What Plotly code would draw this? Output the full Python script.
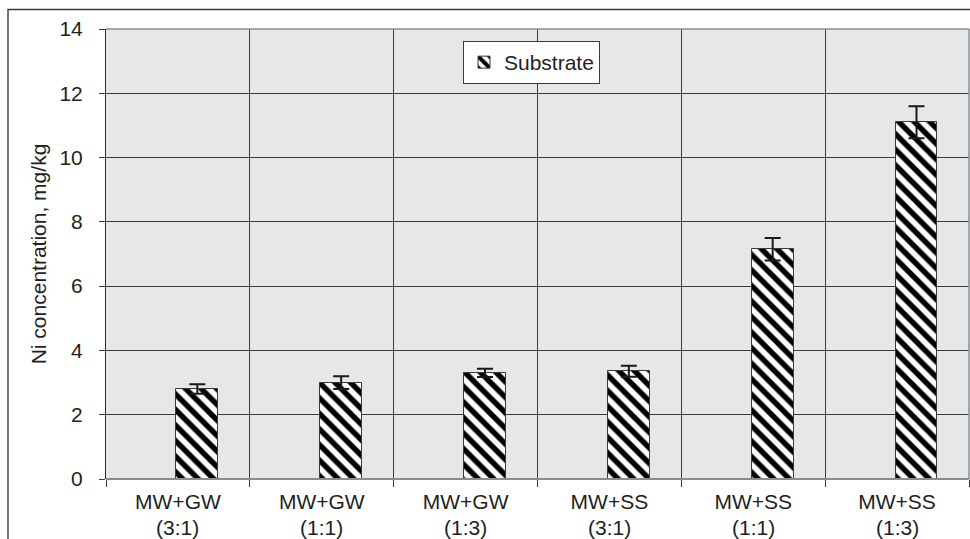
import plotly.graph_objects as go

# Mix type and ratio for each treatment
mixes = ["MW+GW", "MW+GW", "MW+GW", "MW+SS", "MW+SS", "MW+SS"]
ratios = ["(3:1)", "(1:1)", "(1:3)", "(3:1)", "(1:1)", "(1:3)"]
# Ni concentration in substrate (mg/kg) and its standard deviation
substrate = [2.8, 3.0, 3.3, 3.35, 7.15, 11.1]
substrate_err = [0.15, 0.2, 0.13, 0.17, 0.35, 0.5]
y_ticks = [0, 2, 4, 6, 8, 10, 12, 14]

categories = [f"{m} {r}" for m, r in zip(mixes, ratios)]

FONT = "Liberation Sans, Arial, sans-serif"
FS = 21
TEXT = "#231f20"

fig = go.Figure()
fig.add_trace(go.Bar(
    x=categories,
    y=substrate,
    name="Substrate",
    offset=-0.01,
    width=0.29,
    marker=dict(
        color="white",
        line=dict(color="#3a3a3a", width=1),
        pattern=dict(shape="\\", fgcolor="#000000", fgopacity=1, bgcolor="white",
                     size=11, solidity=0.5),
    ),
    error_y=dict(type="data", array=substrate_err, visible=True,
                 color="#1a1a1a", thickness=2, width=8),
    showlegend=True,
))

# second line of each category label (mixing ratio)
for c, r in zip(categories, ratios):
    fig.add_annotation(x=c, xref="x", y=0, yref="paper", text=r,
                       showarrow=False, yanchor="top", yshift=-35,
                       font=dict(family=FONT, size=FS, color=TEXT))

W, H = 970, 539
L, R, T, B = 106, 1, 29, 60
pw, ph = W - L - R, H - T - B

# plot frame (top, right, bottom)
fig.add_shape(type="line", xref="paper", yref="paper", x0=0, x1=1, y0=1, y1=1,
              line=dict(color="#8c8c8c", width=1.5))
fig.add_shape(type="line", xref="paper", yref="paper", x0=1, x1=1, y0=0, y1=1,
              line=dict(color="#8c8c8c", width=1.5))
fig.add_shape(type="line", xref="paper", yref="paper", x0=0, x1=1, y0=0, y1=0,
              line=dict(color="#8c8c8c", width=2))
# outer chart border
fig.add_shape(type="rect", xref="paper", yref="paper",
              x0=(8 - L) / pw, x1=1.05, y0=-0.3, y1=(H - B - 9.5) / ph,
              line=dict(color="#3c3c3c", width=1.4), fillcolor="rgba(0,0,0,0)")

fig.update_layout(
    width=W, height=H,
    margin=dict(l=L, r=R, t=T, b=B, pad=0),
    paper_bgcolor="white",
    plot_bgcolor="#e6e7e8",
    font=dict(family=FONT, size=FS, color=TEXT),
    bargap=0,
    legend=dict(x=(463 - L) / pw, y=(H - B - 41) / ph, xanchor="left", yanchor="top",
                bgcolor="white", bordercolor="#3c3c3c", borderwidth=1,
                font=dict(family=FONT, size=FS, color=TEXT)),
    xaxis=dict(
        type="category",
        tickvals=categories, ticktext=mixes,
        tickson="boundaries",
        ticks="outside", ticklen=7, tickcolor="#3c3c3c", tickwidth=1,
        showgrid=True, gridcolor="#3c3c3c", gridwidth=1,
        showline=False, zeroline=False,
        ticklabelstandoff=8,
        tickfont=dict(family=FONT, size=FS, color=TEXT),
    ),
    yaxis=dict(
        range=[0, 14], tickvals=y_ticks,
        ticks="outside", ticklen=6, tickcolor="#3c3c3c", tickwidth=1,
        showgrid=True, gridcolor="#3c3c3c", gridwidth=1,
        showline=True, linecolor="#2a2a2a", linewidth=1,
        zeroline=False,
        ticklabelstandoff=12,
        tickfont=dict(family=FONT, size=FS, color=TEXT),
        title=dict(text="Ni concentration, mg/kg", standoff=7,
                   font=dict(family=FONT, size=FS, color=TEXT)),
    ),
)

fig.write_html("out.html")
